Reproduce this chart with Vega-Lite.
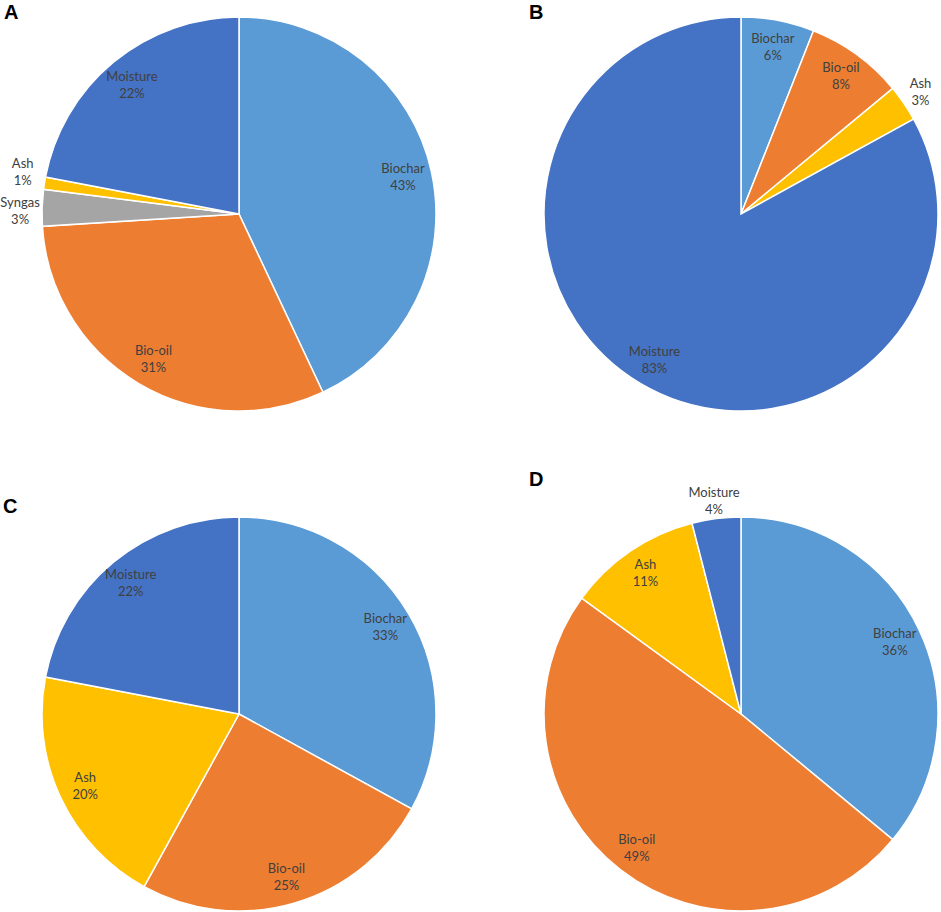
{
  "$schema": "https://vega.github.io/schema/vega-lite/v6.json",
  "padding": {"left": 0, "top": 3, "right": 0, "bottom": 0},
  "data": {
    "values": [
      {"panel": "A", "item": "Biochar", "share": 0.43, "ord": 1},
      {"panel": "A", "item": "Bio-oil", "share": 0.31, "ord": 2},
      {"panel": "A", "item": "Syngas", "share": 0.03, "ord": 3},
      {"panel": "A", "item": "Ash", "share": 0.01, "ord": 4},
      {"panel": "A", "item": "Moisture", "share": 0.22, "ord": 5},
      {"panel": "B", "item": "Biochar", "share": 0.06, "ord": 1},
      {"panel": "B", "item": "Bio-oil", "share": 0.08, "ord": 2},
      {"panel": "B", "item": "Ash", "share": 0.03, "ord": 3},
      {"panel": "B", "item": "Moisture", "share": 0.83, "ord": 4},
      {"panel": "C", "item": "Biochar", "share": 0.33, "ord": 1},
      {"panel": "C", "item": "Bio-oil", "share": 0.25, "ord": 2},
      {"panel": "C", "item": "Ash", "share": 0.20, "ord": 3},
      {"panel": "C", "item": "Moisture", "share": 0.22, "ord": 4},
      {"panel": "D", "item": "Biochar", "share": 0.36, "ord": 1},
      {"panel": "D", "item": "Bio-oil", "share": 0.49, "ord": 2},
      {"panel": "D", "item": "Ash", "share": 0.11, "ord": 3},
      {"panel": "D", "item": "Moisture", "share": 0.04, "ord": 4}
    ]
  },
  "columns": 2,
  "bounds": "flush",
  "spacing": {"row": 106, "column": 108},
  "resolve": {"scale": {"theta": "independent"}},
  "concat": [
    {
      "title": {"text": "A", "dx": -38, "offset": -9},
      "width": 394, "height": 394,
      "transform": [{"filter": "datum.panel == 'A'"}],
      "encoding": {
        "theta": {"field": "share", "type": "quantitative", "stack": true},
        "order": {"field": "ord", "type": "ordinal"},
        "color": {"field": "item", "type": "nominal", "legend": null,
          "scale": {"domain": ["Biochar", "Bio-oil", "Ash", "Syngas", "Moisture"],
                    "range": ["#5B9BD5", "#ED7D31", "#FFC000", "#A5A5A5", "#4472C4"]}}
      },
      "layer": [
        {"mark": {"type": "arc", "stroke": "#ffffff", "strokeWidth": 1.5}},
        {"mark": {"type": "text", "radius": {"expr": "datum.share < 0.05 ? 219 : 168"},
                  "dy": {"expr": "datum.item == 'Ash' ? -16 : datum.item == 'Syngas' ? -4 : -8"}},
         "encoding": {"color": {"value": "#404040"}, "text": {"field": "item"}}},
        {"mark": {"type": "text", "radius": {"expr": "datum.share < 0.05 ? 219 : 168"},
                  "dy": {"expr": "datum.item == 'Ash' ? 1 : datum.item == 'Syngas' ? 13 : 9"}},
         "encoding": {"color": {"value": "#404040"}, "text": {"field": "share", "type": "quantitative", "format": ".0%"}}}
      ]
    },
    {
      "title": {"text": "B", "dx": -15, "offset": -9},
      "width": 394, "height": 394,
      "transform": [{"filter": "datum.panel == 'B'"}],
      "encoding": {
        "theta": {"field": "share", "type": "quantitative", "stack": true},
        "order": {"field": "ord", "type": "ordinal"},
        "color": {"field": "item", "type": "nominal", "legend": null}
      },
      "layer": [
        {"mark": {"type": "arc", "stroke": "#ffffff", "strokeWidth": 1.5}},
        {"mark": {"type": "text", "radius": {"expr": "datum.share < 0.05 ? 217 : 170"}, "dy": -8},
         "encoding": {"color": {"value": "#404040"}, "text": {"field": "item"}}},
        {"mark": {"type": "text", "radius": {"expr": "datum.share < 0.05 ? 217 : 170"}, "dy": 9},
         "encoding": {"color": {"value": "#404040"}, "text": {"field": "share", "type": "quantitative", "format": ".0%"}}}
      ]
    },
    {
      "title": {"text": "C", "dx": -39, "offset": -3},
      "width": 394, "height": 394,
      "transform": [{"filter": "datum.panel == 'C'"}],
      "encoding": {
        "theta": {"field": "share", "type": "quantitative", "stack": true},
        "order": {"field": "ord", "type": "ordinal"},
        "color": {"field": "item", "type": "nominal", "legend": null}
      },
      "layer": [
        {"mark": {"type": "arc", "stroke": "#ffffff", "strokeWidth": 1.5}},
        {"mark": {"type": "text", "radius": 170, "dy": -8},
         "encoding": {"color": {"value": "#404040"}, "text": {"field": "item"}}},
        {"mark": {"type": "text", "radius": 170, "dy": 9},
         "encoding": {"color": {"value": "#404040"}, "text": {"field": "share", "type": "quantitative", "format": ".0%"}}}
      ]
    },
    {
      "title": {"text": "D", "dx": -15, "offset": -3},
      "width": 394, "height": 394,
      "transform": [{"filter": "datum.panel == 'D'"}],
      "encoding": {
        "theta": {"field": "share", "type": "quantitative", "stack": true},
        "order": {"field": "ord", "type": "ordinal"},
        "color": {"field": "item", "type": "nominal", "legend": null}
      },
      "layer": [
        {"mark": {"type": "arc", "stroke": "#ffffff", "strokeWidth": 1.5}},
        {"mark": {"type": "text", "radius": {"expr": "datum.share < 0.05 ? 215 : 170"}, "dy": -8},
         "encoding": {"color": {"value": "#404040"}, "text": {"field": "item"}}},
        {"mark": {"type": "text", "radius": {"expr": "datum.share < 0.05 ? 215 : 170"}, "dy": 9},
         "encoding": {"color": {"value": "#404040"}, "text": {"field": "share", "type": "quantitative", "format": ".0%"}}}
      ]
    }
  ],
  "config": {
    "view": {"stroke": null},
    "text": {"font": "Lato", "fontSize": 13},
    "title": {"anchor": "start", "frame": "group", "font": "Liberation Sans", "fontSize": 20, "fontWeight": "bold", "color": "#000000", "baseline": "alphabetic"}
  }
}
